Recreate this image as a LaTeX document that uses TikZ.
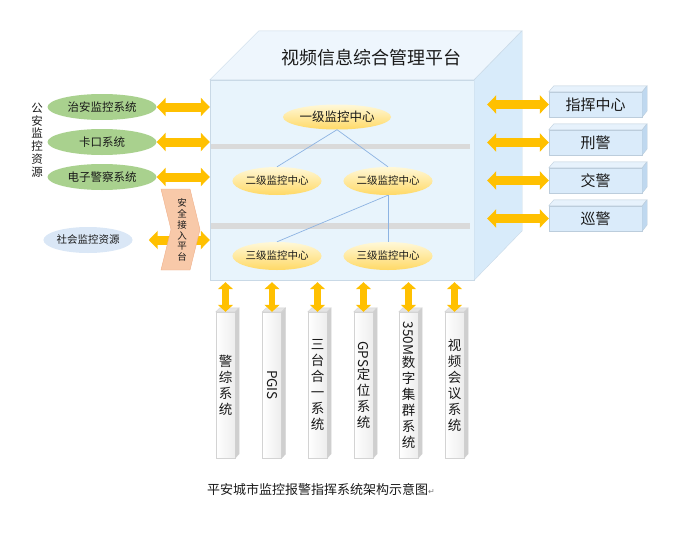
\documentclass[tikz,border=0pt]{standalone}
\usepackage{fontspec}
\setmainfont{Noto Sans CJK SC}
\newfontfamily\symfont{DejaVu Sans}
\usepackage{graphicx}
\usetikzlibrary{arrows.meta,positioning,calc,shapes.geometric}
\definecolor{textgray}{HTML}{1A1A1A}
\definecolor{arrowgold}{HTML}{FFC000}
\definecolor{linkblue}{HTML}{8DB3E2}
\definecolor{srcgreen}{HTML}{A9D18E}
\definecolor{socialblue}{HTML}{DAE7F6}
\definecolor{ellyellowtop}{HTML}{FFF8D8}
\definecolor{ellyellowbot}{HTML}{FFD966}
\definecolor{facefront}{HTML}{E8F4FC}
\definecolor{facetop}{HTML}{EEF6FD}
\definecolor{faceside}{HTML}{D8EBFA}
\definecolor{cubeedge}{HTML}{C9D9E6}
\definecolor{shelfgray}{HTML}{DADADA}
\definecolor{unitfront}{HTML}{DAEBFA}
\definecolor{unittop}{HTML}{E7F2FC}
\definecolor{unitside}{HTML}{BFD8EF}
\definecolor{unitedge}{HTML}{BCCDDC}
\definecolor{barfront}{HTML}{EDEDED}
\definecolor{bartop}{HTML}{E4E4E4}
\definecolor{barside}{HTML}{CFCFCF}
\definecolor{baredge}{HTML}{D3D3D3}
\definecolor{chevfill}{HTML}{F8C9A9}
\definecolor{chevedge}{HTML}{F0B08A}

\begin{document}
\begin{tikzpicture}[x=1pt, y=-1pt,
    every node/.style={text=textgray},
    centre/.style={ellipse, minimum width=85pt, minimum height=28pt, inner sep=0pt, top color=ellyellowtop, bottom color=ellyellowbot, font=\fontsize{10.5}{12}\selectfont},
    source/.style={ellipse, minimum width=109pt, minimum height=26pt, inner sep=0pt, fill=srcgreen, font=\fontsize{11.5}{13}\selectfont},
    dblarrow/.style={draw=arrowgold, line width=9pt, >={Triangle[width=18pt,length=9pt]}, <->},
    vtarrow/.style={draw=arrowgold, line width=6.5pt, >={Triangle[width=15pt,length=7pt]}, <->},
    unitbox/.style={rectangle, draw=unitedge, fill=unitfront, minimum width=93pt, minimum height=25pt, inner sep=0pt, font=\fontsize{15}{17}\selectfont},
    sysbar/.style={rectangle, draw=baredge, left color=white, right color=barfront, minimum width=19pt, minimum height=146pt, inner sep=0pt, align=center, font=\fontsize{13.5}{16}\selectfont},
    link/.style={draw=linkblue, line width=0.7pt}
]
    \useasboundingbox (0,0) rectangle (677,541);

    % Platform cube
    \node[draw=cubeedge, fill=facefront, minimum width=264pt, minimum height=200pt, inner sep=0pt] (front) at (342,180) {};
    \filldraw[draw=cubeedge, fill=facetop] (front.north west) -- ++(49,-49) -- ++(263,0) -- (front.north east) -- cycle;
    \filldraw[draw=cubeedge, fill=faceside] (front.north east) -- ++(48,-49) -- ++(0,200) -- (front.south east) -- cycle;
    \node[font=\fontsize{18}{20}\selectfont] (title) at (371,58) {视频信息综合管理平台};
    \fill[shelfgray] (211,144) rectangle (470,149);
    \fill[shelfgray] (211,223) rectangle (470,229);

    % Monitoring centres
    \node[centre, minimum width=108pt, minimum height=25pt, font=\fontsize{12.5}{14}\selectfont] (lv1) at (337,117) {一级监控中心};
    \node[centre] (lv2a) at (277,181) {二级监控中心};
    \node[centre] (lv2b) at (388,181) {二级监控中心};
    \node[centre] (lv3a) at (277,256) {三级监控中心};
    \node[centre] (lv3b) at (388,256) {三级监控中心};
    \draw[link] (lv1.south) -- (lv2a.north);
    \draw[link] (lv1.south) -- (lv2b.north);
    \draw[link] (lv2b.south) -- (lv3a.north);
    \draw[link] (lv2b.south) -- (lv3b.north);

    % Public security resources
    \node[source] (zhian) at (102,107) {治安监控系统};
    \node[source] (kakou) at (102,142) {卡口系统};
    \node[source] (dianzi) at (102,177) {电子警察系统};
    \node[align=center, font=\fontsize{11.5}{12.7}\selectfont] (gongan) at (37,140) {公\\安\\监\\控\\资\\源};
    \foreach \src in {zhian,kakou,dianzi}
        \draw[dblarrow] (\src.east) -- (front.west |- \src);

    % Social resources through the access platform
    \node[source, fill=socialblue, minimum width=82pt, font=\fontsize{10.5}{12}\selectfont] (shehui) at (88,240) {社会监控资源};
    \draw[dblarrow] ($(shehui.east)+(16,0)$) -- (front.west |- shehui);
    \filldraw[draw=chevedge, fill=chevfill] (161,189) -- (190,189) -- (200,229.5) -- (190,270) -- (161,270) -- (171,229.5) -- cycle;
    \node[align=center, font=\fontsize{9.5}{10.9}\selectfont] (anquan) at (182,230) {安\\全\\接\\入\\平\\台};

    % Police units
    \foreach \name/\txt [count=\i from 0] in {zhihui/指挥中心, xingjing/刑警, jiaojing/交警, xunjing/巡警} {
        \node[unitbox] (\name) at (595.5,{104.5+38*\i}) {\txt};
        \filldraw[draw=unitedge, fill=unittop] (\name.north west) -- ++(5,-6) -- ++(93,0) -- (\name.north east) -- cycle;
        \filldraw[draw=unitedge, fill=unitside] (\name.north east) -- ++(5,-6) -- ++(0,25) -- (\name.south east) -- cycle;
        \draw[dblarrow] ($(front.east |- \name)+(13,0)$) -- (\name.west);
    }

    % Business systems
    \foreach \name/\x/\txt in {
        jingzong/225.5/{警\\综\\系\\统},
        pgis/272/{\rotatebox{-90}{PGIS}},
        santai/317.5/{三\\台\\合\\一\\系\\统},
        gps/363.5/{\rotatebox{-90}{GPS}\\定\\位\\系\\统},
        jiqun/408.5/{\rotatebox{-90}{350M}\\数\\字\\集\\群\\系\\统},
        huiyi/454.5/{视\\频\\会\\议\\系\\统}} {
        \node[sysbar] (\name) at (\x,385) {\txt};
        \filldraw[draw=baredge, fill=bartop] (\name.north west) -- ++(4,-4) -- ++(19,0) -- (\name.north east) -- cycle;
        \filldraw[draw=baredge, fill=barside] (\name.north east) -- ++(4,-4) -- ++(0,146) -- (\name.south east) -- cycle;
        \draw[vtarrow] ($(front.south -| \name)+(0,2)$) -- (\name.north);
    }

    \node[font=\fontsize{13}{15}\selectfont] (caption) at (321,490) {平安城市监控报警指挥系统架构示意图{\symfont\color{gray}\fontsize{8}{8}\selectfont ↵}};
\end{tikzpicture}
\end{document}
